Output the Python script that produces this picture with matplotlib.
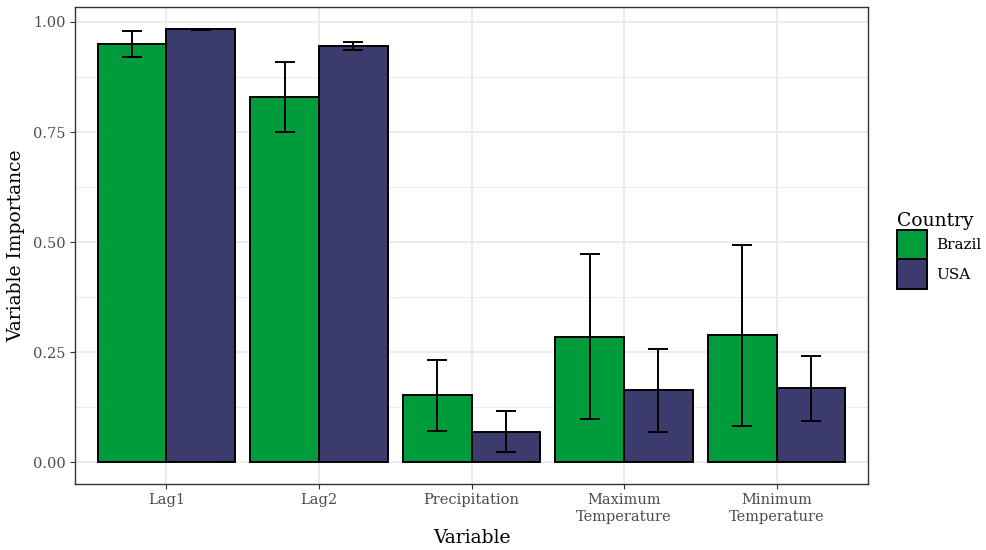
import matplotlib.pyplot as plt
import numpy as np
from matplotlib.patches import Patch

plt.rcParams['font.family'] = ['DejaVu Serif']

variables = ["Lag1", "Lag2", "Precipitation", "Maximum\nTemperature", "Minimum\nTemperature"]
countries = ["Brazil", "USA"]

brazil_mean = [0.950, 0.830, 0.152, 0.285, 0.289]
brazil_low = [0.920, 0.750, 0.071, 0.098, 0.083]
brazil_high = [0.980, 0.909, 0.232, 0.473, 0.493]

usa_mean = [0.984, 0.945, 0.069, 0.164, 0.168]
usa_low = [0.982, 0.936, 0.023, 0.070, 0.094]
usa_high = [0.985, 0.955, 0.116, 0.258, 0.242]

colors = {"Brazil": "#009C3B", "USA": "#3C3B6E"}

fig = plt.figure(figsize=(9.87, 5.5), dpi=100)
ax = fig.add_axes([75 / 987, 66 / 550, 793 / 987, 477 / 550])

x = np.arange(1, len(variables) + 1)
w = 0.45
series = [(brazil_mean, brazil_low, brazil_high), (usa_mean, usa_low, usa_high)]
for k, (c, (m, lo, hi)) in enumerate(zip(countries, series)):
    pos = x + (k - 0.5) * w
    m = np.array(m)
    err = [m - np.array(lo), np.array(hi) - m]
    ax.bar(pos, m, width=w, color=colors[c], edgecolor="black", linewidth=1.4, zorder=3)
    ax.errorbar(pos, m, yerr=err, fmt="none", ecolor="black", elinewidth=1.4,
                capsize=7.2, capthick=1.4, zorder=4)

ax.set_xlim(0.4, 5.6)
ax.set_ylim(-0.049, 1.034)
ax.set_xticks(x)
ax.set_xticklabels(variables, fontsize=10.5, color="#4D4D4D", linespacing=1.25)
yt = [0, 0.25, 0.5, 0.75, 1.0]
ax.set_yticks(yt)
ax.set_yticklabels(["0.00", "0.25", "0.50", "0.75", "1.00"], fontsize=10.5, color="#4D4D4D")
ax.set_yticks([0.125, 0.375, 0.625, 0.875], minor=True)
ax.tick_params(axis="both", which="major", length=3.5, width=0.8, color="#333333", pad=3)
ax.tick_params(axis="both", which="minor", length=0)
ax.grid(True, which="major", color="#EBEBEB", linewidth=1.3, zorder=0)
ax.grid(True, which="minor", axis="y", color="#EBEBEB", linewidth=0.7, zorder=0)
ax.set_axisbelow(True)
for s in ax.spines.values():
    s.set_color("#333333")
    s.set_linewidth(1.0)

ax.set_xlabel("Variable", fontsize=13.5, labelpad=4)
ax.set_ylabel("Variable Importance", fontsize=13.5, labelpad=6)

handles = [Patch(facecolor=colors[c], edgecolor="black", linewidth=1.4) for c in countries]
leg = ax.legend(handles, countries, title="Country", loc="center left",
                bbox_to_anchor=(1.037, 0.49), frameon=False, fontsize=11,
                title_fontsize=13.5, handlelength=1.95, handleheight=2.6,
                handletextpad=0.6, labelspacing=0.0, borderpad=0,
                borderaxespad=0, alignment="left")

fig.savefig("out.png", dpi=100)
